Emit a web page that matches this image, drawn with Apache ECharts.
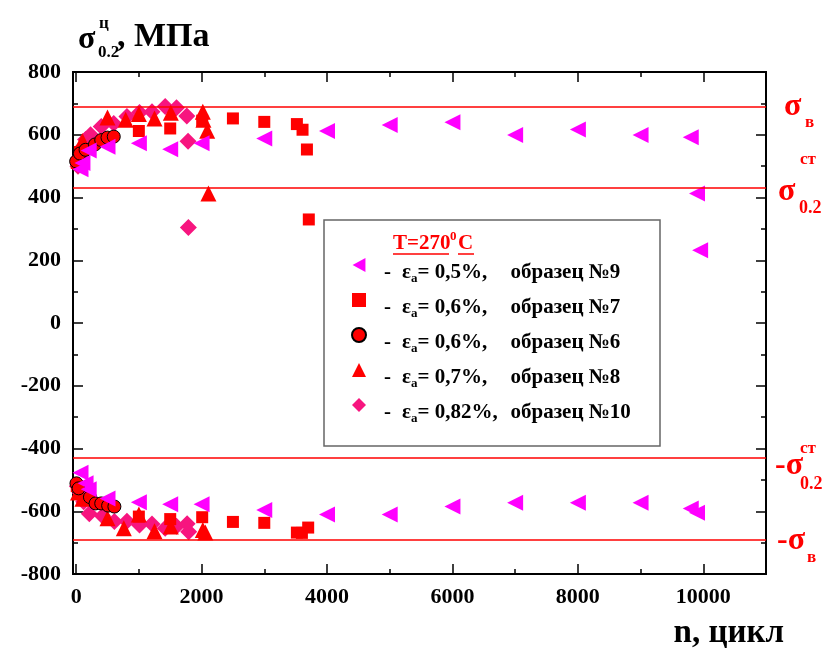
<!DOCTYPE html>
<html>
<head>
<meta charset="utf-8">
<script src="https://cdn.jsdelivr.net/npm/echarts@6/dist/echarts.min.js"></script>
<style>
  html, body { margin: 0; padding: 0; background: #fff; }
  #chart { width: 831px; height: 648px; }
</style>
</head>
<body>
<div id="chart"></div>
<script>
// n (cycles), sigma (MPa)
const s9Top = [[70, 490], [100, 510], [200, 550], [500, 562], [1000, 573], [1500, 554], [2000, 573], [3000, 588], [4000, 612], [5000, 631], [6000, 640], [7000, 599], [8000, 617], [9000, 599], [9800, 592], [9900, 413], [9950, 232]]
const s9Bot = [[70, -477], [150, -511], [200, -530], [500, -559], [1000, -571], [1500, -578], [2000, -578], [3000, -596], [4000, -610], [5000, -610], [6000, -585], [7000, -573], [8000, -573], [9000, -573], [9800, -591], [9900, -605]]

const s7Top = [[10, 510], [60, 545], [1000, 612], [1500, 620], [2010, 645], [2500, 652], [3000, 641], [3520, 634], [3610, 616], [3680, 553], [3710, 330]]
const s7Bot = [[10, -520], [1000, -617], [1500, -625], [2010, -619], [2500, -634], [3000, -637], [3520, -668], [3600, -669], [3700, -652]]

const s6Top = [[0, 515], [60, 540], [150, 552], [300, 569], [400, 583], [500, 591], [600, 594]]
const s6Bot = [[5, -511], [40, -527], [220, -555], [310, -575], [400, -575], [510, -582], [610, -585]]

const s8Top = [[30, 540], [100, 580], [500, 655], [790, 648], [1000, 666], [1250, 652], [1510, 670], [2020, 673], [2030, 648], [2090, 613], [2110, 413]]
const s8Bot = [[30, -540], [100, -560], [500, -622], [760, -654], [1000, -610], [1250, -664], [1510, -649], [2020, -660], [2060, -668]]

const s10Top = [[30, 500], [60, 530], [100, 560], [150, 585], [230, 600], [400, 626], [600, 636], [810, 658], [1010, 671], [1210, 673], [1420, 690], [1600, 686], [1765, 660], [1785, 579], [1790, 304]]
const s10Bot = [[20, -520], [70, -543], [120, -570], [210, -608], [420, -615], [610, -633], [810, -632], [1010, -644], [1210, -641], [1420, -654], [1600, -648], [1770, -640], [1795, -665]]

// legend texts
const sampleNames = ['образец №9', 'образец №7', 'образец №6', 'образец №8', 'образец №10']
const strains = ['= 0,5%,', '= 0,6%,', '= 0,6%,', '= 0,7%,', '= 0,82%,']

// reference levels: sigma_v, sigma_0.2^st, -sigma_0.2^st, -sigma_v
const refLevels = [690, 430, -430, -690]

const xMajorTicks = [0, 2000, 4000, 6000, 8000, 10000]
const xMinorTicks = [1000, 3000, 5000, 7000, 9000]

const FONT = '"Liberation Serif", "Times New Roman", serif'
const RED = '#ff0000'
const LEFT_TRI = 'path://M0,6L11,0L11,12Z'

const chart = echarts.init(document.getElementById('chart'))

function xAxisDef(pos, ticks, len, labels) {
  return {
    type: 'value',
    position: pos,
    min: -50,
    max: 11000,
    axisLine: { show: true, onZero: false, lineStyle: { color: '#000', width: 2 } },
    axisTick: { show: true, inside: true, length: len, customValues: ticks, lineStyle: { color: '#000', width: 1.5 } },
    axisLabel: labels ? {
      show: true, customValues: ticks, margin: 12,
      formatter: v => String(v),
      fontFamily: FONT, fontWeight: 'bold', fontSize: 22, color: '#000'
    } : { show: false },
    splitLine: { show: false }
  }
}

function yAxisDef(pos, labels) {
  return {
    type: 'value',
    position: pos,
    min: -800,
    max: 800,
    interval: 200,
    axisLine: { show: true, onZero: false, lineStyle: { color: '#000', width: 2 } },
    axisTick: { show: true, inside: true, length: 10, lineStyle: { color: '#000', width: 1.5 } },
    minorTick: { show: true, splitNumber: 2, length: 5, lineStyle: { color: '#000', width: 1.5 } },
    axisLabel: labels ? {
      show: true, margin: 12,
      fontFamily: FONT, fontWeight: 'bold', fontSize: 22, color: '#000'
    } : { show: false },
    splitLine: { show: false }
  }
}

function scatter(name, data, symbol, size, color, extra) {
  return Object.assign({
    name: name,
    type: 'scatter',
    data: data,
    symbol: symbol,
    symbolSize: size,
    itemStyle: { color: color, opacity: 1 },
    emphasis: { disabled: true },
    animation: false
  }, extra || {})
}

// all tokens left-aligned: a centred token would centre the rest of the line
const legendRich = {
  d: { fontSize: 21, lineHeight: 20, padding: [7, 11, 7, 13], verticalAlign: 'top' },
  e: { fontSize: 21, lineHeight: 20, padding: [7, 0, 7, 0], verticalAlign: 'top' },
  a: { fontSize: 13, lineHeight: 13, padding: [17, 0, 0, 0], verticalAlign: 'top' },
  v: { width: 93, fontSize: 21, lineHeight: 20, padding: [7, 0, 7, 0], verticalAlign: 'top' },
  o: { fontSize: 21, lineHeight: 20, padding: [7, 0, 7, 0], verticalAlign: 'top' }
}

chart.setOption({
  backgroundColor: '#fff',
  textStyle: { fontFamily: FONT },
  grid: { left: 73, right: 65, top: 72, bottom: 74, containLabel: false },
  xAxis: [
    xAxisDef('bottom', xMajorTicks, 10, true),
    xAxisDef('bottom', xMinorTicks, 5, false),
    xAxisDef('top', xMajorTicks, 10, false),
    xAxisDef('top', xMinorTicks, 5, false)
  ],
  yAxis: [yAxisDef('left', true), yAxisDef('right', false)],
  legend: {
    data: sampleNames.map((n, i) => i === 0 ? { name: n, icon: LEFT_TRI } : { name: n }),
    orient: 'vertical',
    left: 351,
    top: 255,
    padding: 0,
    itemGap: 0,
    itemWidth: 14,
    itemHeight: 14,
    selectedMode: false,
    textStyle: { fontFamily: FONT, fontWeight: 'bold', fontSize: 21, color: '#000', rich: legendRich },
    formatter: function (name) {
      const i = sampleNames.indexOf(name)
      return '{d|-}{e|ε}{a|a}{v|' + strains[i] + '}{o|' + name + '}'
    }
  },
  series: [
    scatter(sampleNames[4], s10Top.concat(s10Bot), 'diamond', 17, '#f7157f'),
    scatter(sampleNames[3], s8Top.concat(s8Bot), 'triangle', 16, RED),
    scatter(sampleNames[1], s7Top.concat(s7Bot), 'rect', 12, RED, {
      markLine: {
        silent: true,
        symbol: 'none',
        animation: false,
        label: { show: false },
        lineStyle: { color: RED, width: 1.5, type: 'solid' },
        data: refLevels.map(v => ({ yAxis: v }))
      }
    }),
    scatter(sampleNames[2], s6Top.concat(s6Bot), 'circle', 13, RED, {
      itemStyle: { color: RED, borderColor: '#000', borderWidth: 1, opacity: 1 }
    }),
    scatter(sampleNames[0], s9Top.concat(s9Bot), 'triangle', 16, '#ff00ff', { symbolRotate: 90 })
  ]
})

// texts placed around the plot
const yPx = v => chart.convertToPixel({ yAxisIndex: 0 }, v)
function txt(text, x, y, size, color, align) {
  return {
    type: 'text', x: x, y: y, silent: true,
    style: { text: text, fontFamily: FONT, fontWeight: 'bold', fontSize: size, fill: color, align: align || 'left', verticalAlign: 'middle' }
  }
}

const yv = yPx(refLevels[0]), ys = yPx(refLevels[1]), yns = yPx(refLevels[2]), ynv = yPx(refLevels[3])

chart.setOption({
  graphic: [
    // y title
    txt('σ', 78, 40, 32, '#000'),
    txt('ц', 99, 24, 17, '#000'),
    txt('0.2', 98, 53, 17, '#000'),
    txt(', МПа', 117, 37, 34, '#000'),
    // x title
    txt('n, цикл', 784, 633, 33, '#000', 'right'),
    // right-hand level labels
    txt('σ', 784, yv, 32, RED),
    txt('в', 805, yv + 16, 17, RED),
    txt('σ', 778, ys + 4, 32, RED),
    txt('ст', 800, ys - 28, 17, RED),
    txt('0.2', 799, ys + 20, 18, RED),
    txt('-σ', 775, yns + 8, 32, RED),
    txt('ст', 800, yns - 9, 17, RED),
    txt('0.2', 800, yns + 26, 18, RED),
    txt('-σ', 777, ynv + 1, 32, RED),
    txt('в', 807, ynv + 18, 17, RED),
    // legend frame and its heading
    { type: 'rect', shape: { x: 324, y: 220, width: 336, height: 226 }, silent: true, z: -1, style: { fill: '#fff', stroke: '#666', lineWidth: 1.5 } },
    txt('T=270', 393, 244, 21, RED),
    txt('0', 450, 237, 13, RED),
    txt('C', 458, 244, 21, RED),
    { type: 'line', shape: { x1: 393, y1: 254, x2: 449, y2: 254 }, silent: true, style: { stroke: RED, lineWidth: 1.5 } },
    { type: 'line', shape: { x1: 458, y1: 254, x2: 474, y2: 254 }, silent: true, style: { stroke: RED, lineWidth: 1.5 } }
  ]
})
</script>
</body>
</html>
